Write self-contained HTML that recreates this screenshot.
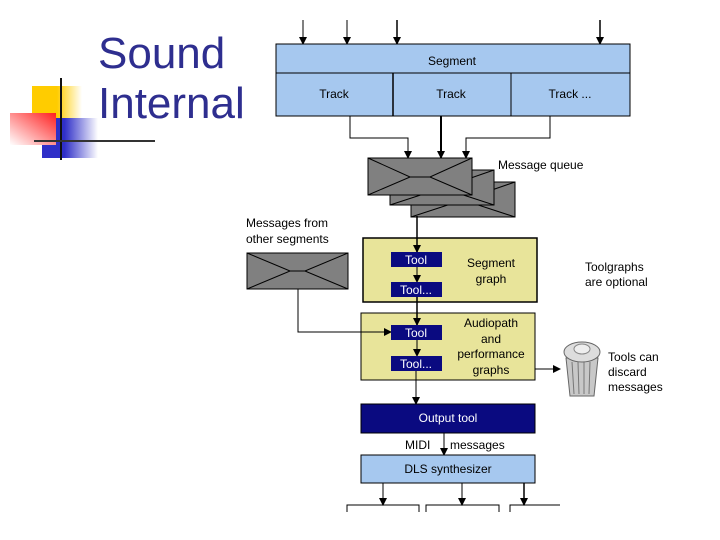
<!DOCTYPE html>
<html><head><meta charset="utf-8"><style>
body{margin:0;background:#fff;}
svg{display:block;font-family:"Liberation Sans",sans-serif;}
</style></head><body>
<svg width="720" height="540" viewBox="0 0 720 540" xmlns="http://www.w3.org/2000/svg">
<defs>
<linearGradient id="gy" x1="0" x2="1"><stop offset="0.5" stop-color="#ffcc00"/><stop offset="1" stop-color="#fff"/></linearGradient>
<linearGradient id="gb" x1="0" x2="1"><stop offset="0.4" stop-color="#2f2fc8"/><stop offset="1" stop-color="#fff"/></linearGradient>
<linearGradient id="gr" x1="1" x2="0" y1="0" y2="1"><stop offset="0" stop-color="#ff2020"/><stop offset="1" stop-color="#fff"/></linearGradient>
<marker id="a" markerWidth="8" markerHeight="8" refX="7" refY="4" orient="auto" markerUnits="userSpaceOnUse"><path d="M0,0 L8,4 L0,8z" fill="#000"/></marker>
</defs>
<!-- decoration -->
<rect x="32" y="86" width="50" height="36" fill="url(#gy)"/>
<rect x="42" y="118" width="56" height="40" fill="url(#gb)"/>
<rect x="10" y="113" width="46" height="32" fill="url(#gr)"/>
<line x1="61" y1="78" x2="61" y2="160" stroke="#111" stroke-width="2"/>
<line x1="34" y1="141" x2="155" y2="141" stroke="#333" stroke-width="2"/>
<text x="98" y="68" font-size="44" fill="#2e2e8f">Sound</text>
<text x="98" y="118" font-size="44" fill="#2e2e8f">Internal</text>

<g stroke="#000" stroke-width="1" fill="none">
<line x1="303" y1="20" x2="303" y2="44" marker-end="url(#a)"/>
<line x1="347" y1="20" x2="347" y2="44" marker-end="url(#a)"/>
<line x1="397" y1="20" x2="397" y2="44" marker-end="url(#a)" stroke-width="1.5"/>
<line x1="600" y1="20" x2="600" y2="44" marker-end="url(#a)" stroke-width="1.5"/>
</g>
<rect x="276" y="44" width="354" height="72" fill="#a6c8ef" stroke="#000"/>
<line x1="276" y1="73" x2="630" y2="73" stroke="#000"/>
<line x1="393" y1="73" x2="393" y2="116" stroke="#000" stroke-width="1.5"/>
<line x1="511" y1="73" x2="511" y2="116" stroke="#000"/>
<g font-size="12" text-anchor="middle" fill="#000">
<text x="452" y="65">Segment</text>
<text x="334" y="98">Track</text>
<text x="451" y="98">Track</text>
<text x="570" y="98">Track ...</text>
</g>
<g stroke="#000" fill="none">
<path d="M350,116 V138 H408 V158" marker-end="url(#a)"/>
<path d="M441,116 V158" stroke-width="2" marker-end="url(#a)"/>
<path d="M550,116 V138 H466 V158" marker-end="url(#a)"/>
</g>
<!-- envelopes -->
<g stroke="#000" fill="#808080" stroke-width="1">
<g transform="translate(43,24)"><rect x="368" y="158" width="104" height="35"/><path d="M368,158 L420,176 L472,158 M368,193 L420,176 L472,193" fill="none"/></g>
<g transform="translate(22,12)"><rect x="368" y="158" width="104" height="35"/><path d="M368,158 L420,176 L472,158 M368,193 L420,176 L472,193" fill="none"/></g>
<rect x="368" y="158" width="104" height="37"/><path d="M368,158 L410,177 L430,177 L472,158 M368,195 L410,177 L430,177 L472,195" fill="none"/>
<rect x="247" y="253" width="101" height="36"/><path d="M247,253 L290,271 L305,271 L348,253 M247,289 L290,271 L305,271 L348,289" fill="none"/>
</g>
<text x="498" y="169" font-size="12">Message queue</text>
<text x="246" y="227" font-size="12">Messages from</text>
<text x="246" y="243" font-size="12">other segments</text>

<rect x="363" y="238" width="174" height="64" fill="#e8e49a" stroke="#000" stroke-width="1.5"/>
<rect x="361" y="313" width="174" height="67" fill="#e8e49a" stroke="#000"/>
<g stroke="#000" fill="none">
<path d="M417,216 V252" stroke-width="1.5" marker-end="url(#a)"/>
<path d="M417,267 V282" marker-end="url(#a)"/>
<path d="M417,297 V325" stroke-width="1.5" marker-end="url(#a)"/>
<path d="M417,340 V356" marker-end="url(#a)"/>
<path d="M416,371 V404" marker-end="url(#a)"/>
<path d="M298,289 V332 H391" marker-end="url(#a)"/>
<path d="M535,369 H560" marker-end="url(#a)"/>
<path d="M444,433 V455" marker-end="url(#a)"/>
<path d="M383,483 V505" marker-end="url(#a)"/>
<path d="M462,483 V505" marker-end="url(#a)"/>
<path d="M524,483 V505" stroke-width="1.5" marker-end="url(#a)"/>
<path d="M347,512 V505 H419 V512 M426,512 V505 H499 V512 M510,512 V505 H560"/>
</g>
<g fill="#0a0a80">
<rect x="391" y="252" width="51" height="15"/>
<rect x="391" y="282" width="51" height="15"/>
<rect x="391" y="325" width="51" height="15"/>
<rect x="391" y="356" width="51" height="15"/>
</g>
<g font-size="12" fill="#fff" text-anchor="middle">
<text x="416" y="264">Tool</text><text x="416" y="294">Tool...</text>
<text x="416" y="337">Tool</text><text x="416" y="368">Tool...</text>
</g>
<g font-size="12" text-anchor="middle">
<text x="491" y="267">Segment</text><text x="491" y="283">graph</text>
<text x="491" y="327">Audiopath</text><text x="491" y="343">and</text><text x="491" y="358">performance</text><text x="491" y="374">graphs</text>
</g>
<g font-size="12">
<text x="585" y="271">Toolgraphs</text><text x="585" y="286">are optional</text>
<text x="608" y="361">Tools can</text><text x="608" y="376">discard</text><text x="608" y="391">messages</text>
</g>
<!-- trash -->
<path d="M566,358 L570,396 L594,396 L598,358z" fill="#c8c8c8" stroke="#666"/>
<g stroke="#777"><line x1="572" y1="362" x2="574" y2="394"/><line x1="578" y1="362" x2="579" y2="394"/><line x1="584" y1="362" x2="584" y2="394"/><line x1="590" y1="362" x2="589" y2="394"/></g>
<ellipse cx="582" cy="352" rx="18" ry="10" fill="#ddd" stroke="#666"/>
<ellipse cx="582" cy="349" rx="8" ry="5" fill="#eee" stroke="#888"/>

<rect x="361" y="404" width="174" height="29" fill="#0a0a80" stroke="#000"/>
<text x="448" y="422" font-size="12" fill="#fff" text-anchor="middle">Output tool</text>
<text x="405" y="449" font-size="12">MIDI</text><text x="450" y="449" font-size="12">messages</text>
<rect x="361" y="455" width="174" height="28" fill="#a6c8ef" stroke="#000"/>
<text x="448" y="473" font-size="12" text-anchor="middle">DLS synthesizer</text>
</svg>
</body></html>
